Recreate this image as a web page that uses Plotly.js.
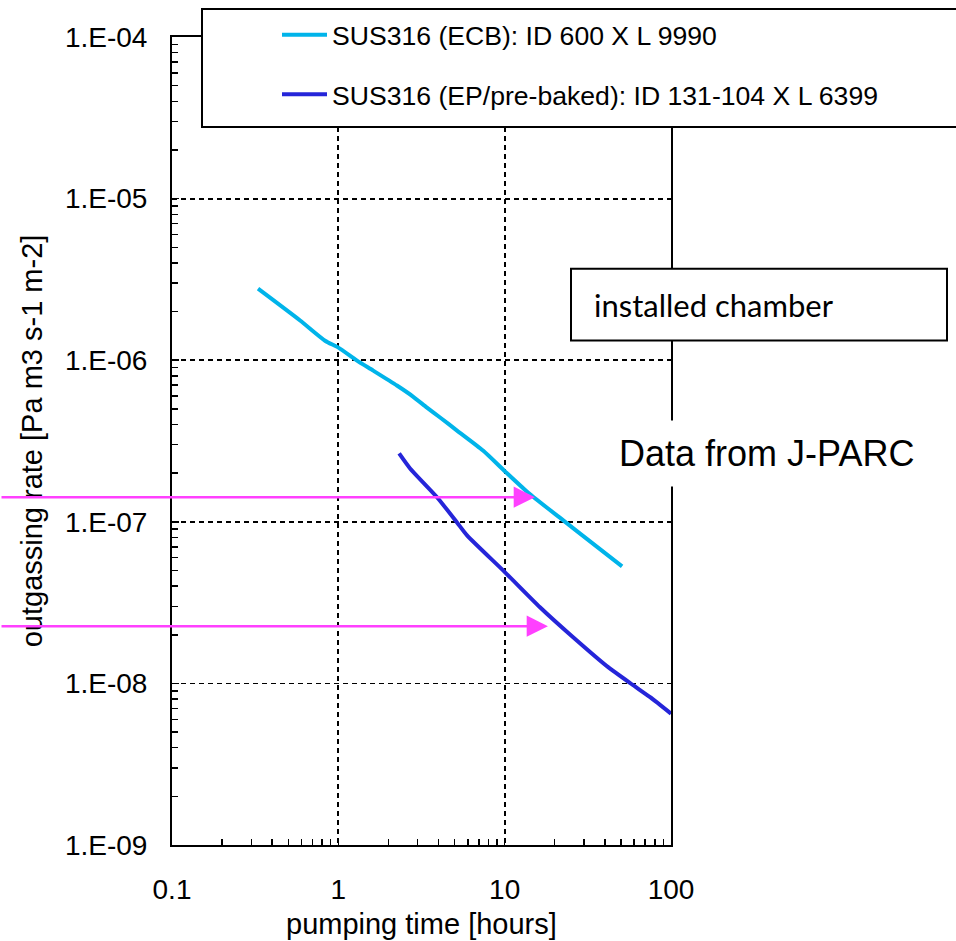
<!DOCTYPE html>
<html>
<head>
<meta charset="utf-8">
<script src="https://cdn.plot.ly/plotly-3.0.1.min.js"></script>
<style>html,body{margin:0;padding:0;background:#fff;}#chart{width:956px;height:941px;}</style>
</head>
<body>
<div id="chart"></div>
<script>
// ---- data ----
var ecbName = 'SUS316 (ECB): ID 600 X L 9990';
var ecbHours = [0.329, 0.589, 0.832, 0.996, 1.295, 1.62, 2.25, 2.81, 3.41, 4.09, 5.17, 7.41, 10.05, 13.8, 22.5, 32.6, 50.8];
var ecbRate  = [2.77e-6, 1.76e-6, 1.32e-6, 1.20e-6, 9.94e-7, 8.62e-7, 6.97e-7, 5.96e-7, 5.09e-7, 4.42e-7, 3.67e-7, 2.76e-7, 2.05e-7, 1.52e-7, 1.02e-7, 7.57e-8, 5.30e-8];

var epName = 'SUS316 (EP/pre-baked): ID 131-104 X L 6399';
var epHours = [2.32, 2.70, 3.92, 5.17, 5.94, 10.05, 16.3, 25.8, 41.9, 59.2, 74.9, 100];
var epRate  = [2.65e-7, 2.14e-7, 1.42e-7, 9.91e-8, 8.24e-8, 4.87e-8, 2.96e-8, 1.93e-8, 1.26e-8, 9.75e-9, 8.22e-9, 6.50e-9];

var yTickVals = [1e-9, 1e-8, 1e-7, 1e-6, 1e-5, 1e-4];
var yTickText = ['1.E-09', '1.E-08', '1.E-07', '1.E-06', '1.E-05', '1.E-04'];
var xTickVals = [0.1, 1, 10, 100];
var xTickText = ['0.1', '1', '10', '100'];

// arrows marking rates (magenta)
var arrowRate = [1.42e-7, 2.26e-8];
var arrowTipHours = [15.2, 18.2];

var xTitle = 'pumping time [hours]';
var yTitle = 'outgassing rate [Pa m3 s-1 m-2]';
var noteBox = 'installed chamber';
var noteSource = 'Data from J-PARC';

// ---- geometry helpers (pixel -> paper) ----
var W = 956, H = 941;
var mL = 172, mR = 285, mT = 36, mB = 96;
var pw = W - mL - mR, ph = H - mT - mB;
function px(x) { return (x - mL) / pw; }
function py(y) { return (H - mB - y) / ph; }

function minorVals(lo, hi) {
  var v = [];
  for (var e = lo; e < hi; e++) {
    for (var m = 2; m <= 9; m++) v.push(m * Math.pow(10, e));
  }
  return v;
}

var font = 'Liberation Sans, Arial, Helvetica, sans-serif';

var traces = [
  {x: ecbHours, y: ecbRate, name: ecbName, mode: 'lines', type: 'scatter',
   line: {color: '#00b4ea', width: 4, shape: 'spline', smoothing: 0.6}, legendgroup: 'a'},
  {x: epHours, y: epRate, name: epName, mode: 'lines', type: 'scatter',
   line: {color: '#2525d9', width: 4, shape: 'spline', smoothing: 0.6}, legendgroup: 'b'}
];

var annotations = [];
for (var i = 0; i < arrowRate.length; i++) {
  var tipPx = mL + (Math.log10(arrowTipHours[i]) + 1) / 3 * pw;
  annotations.push({
    x: Math.log10(arrowTipHours[i]), y: Math.log10(arrowRate[i]),
    xref: 'x', yref: 'y', text: '', showarrow: true,
    ax: -tipPx, ay: 0, arrowcolor: '#ff40ff', arrowwidth: 2.5,
    arrowhead: 2, arrowsize: 1.7, standoff: 0, startstandoff: 0
  });
}
annotations.push({
  xref: 'paper', yref: 'paper', x: 0.5, y: py(924), xanchor: 'center', yanchor: 'middle',
  text: xTitle, showarrow: false, font: {family: font, size: 29, color: '#000'}
});
annotations.push({
  xref: 'paper', yref: 'paper', x: px(592), y: py(304), xanchor: 'left', yanchor: 'middle',
  text: noteBox, showarrow: false, font: {family: 'Lato, Open Sans, sans-serif', size: 31, color: '#000'}
});
annotations.push({
  xref: 'paper', yref: 'paper', x: px(766), y: py(453), xanchor: 'center', yanchor: 'middle',
  text: noteSource, showarrow: false, bgcolor: '#fff', borderpad: 12,
  font: {family: font, size: 36, color: '#000'}
});

var layout = {
  width: W, height: H,
  margin: {l: mL, r: mR, t: mT, b: mB, pad: 0},
  paper_bgcolor: '#fff', plot_bgcolor: '#fff',
  font: {family: font, color: '#000', size: 28},
  showlegend: true,
  legend: {
    x: px(277), y: py(11), xanchor: 'left', yanchor: 'top',
    bgcolor: 'rgba(0,0,0,0)', borderwidth: 0,
    font: {family: font, size: 26.6, color: '#000'},
    traceorder: 'grouped', tracegroupgap: 22, itemwidth: 45
  },
  xaxis: {
    type: 'log', range: [-1, 2],
    tickmode: 'array', tickvals: xTickVals, ticktext: xTickText,
    ticks: 'inside', ticklen: 7, tickwidth: 1.5, tickcolor: '#000',
    showline: true, linecolor: '#000', linewidth: 2, mirror: true,
    showgrid: true, gridcolor: '#000', gridwidth: 1.8, griddash: '5px,4px',
    zeroline: false, ticklabelstandoff: 18,
    tickfont: {family: font, size: 28, color: '#000'},
    minor: {tickmode: 'array', tickvals: minorVals(-1, 2), ticks: 'inside', ticklen: 6, tickwidth: 1.5, tickcolor: '#000', showgrid: false}
  },
  yaxis: {
    type: 'log', range: [-9, -4],
    tickmode: 'array', tickvals: yTickVals, ticktext: yTickText,
    ticks: 'inside', ticklen: 7, tickwidth: 1.5, tickcolor: '#000',
    showline: true, linecolor: '#000', linewidth: 2, mirror: true,
    showgrid: true, gridcolor: '#000', gridwidth: 1.8, griddash: '5px,4px',
    zeroline: false, ticklabelstandoff: 17,
    tickfont: {family: font, size: 28, color: '#000'},
    minor: {tickmode: 'array', tickvals: minorVals(-9, -4), ticks: 'inside', ticklen: 6, tickwidth: 1.5, tickcolor: '#000', showgrid: false},
    title: {text: yTitle, font: {family: font, size: 29, color: '#000'}, standoff: 14}
  },
  shapes: [
    {type: 'rect', xref: 'paper', yref: 'paper', x0: px(202), x1: px(962), y0: py(126), y1: py(8),
     line: {color: '#000', width: 2}, fillcolor: '#fff', layer: 'above'},
    {type: 'rect', xref: 'paper', yref: 'paper', x0: px(571), x1: px(947), y0: py(340), y1: py(268),
     line: {color: '#000', width: 2}, fillcolor: '#fff', layer: 'above'}
  ],
  annotations: annotations
};

Plotly.newPlot('chart', traces, layout, {displayModeBar: false, staticPlot: true});
</script>
</body>
</html>
